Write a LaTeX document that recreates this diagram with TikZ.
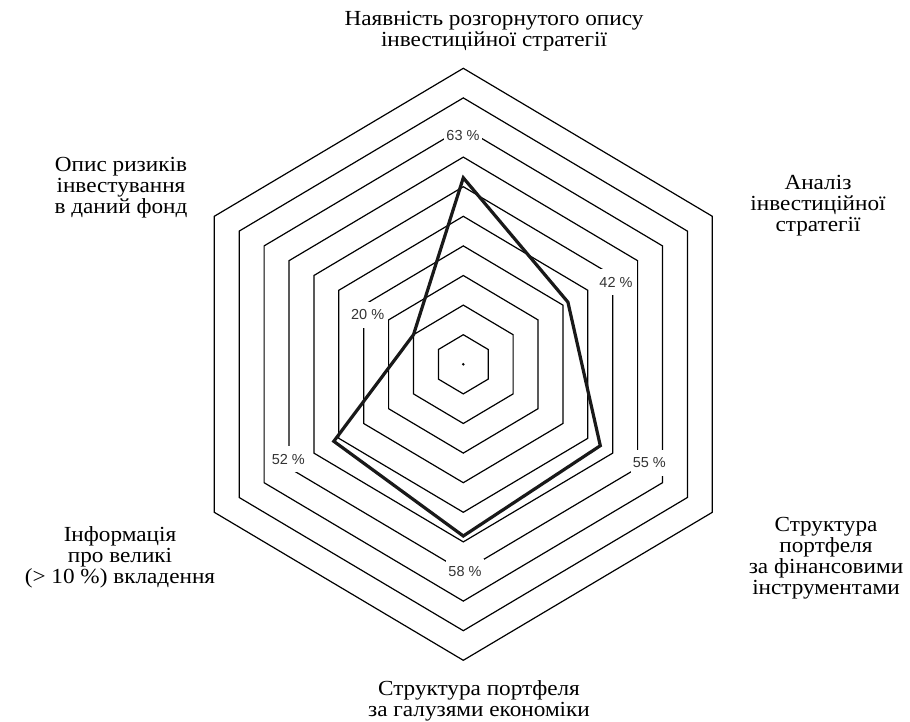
\documentclass[tikz,border=0pt]{standalone}
\usepackage{fontspec}
\setmainfont[FakeStretch=1.08]{Liberation Serif}
\newfontfamily\pctfont{Liberation Sans}
\begin{document}
\begin{tikzpicture}[x=1pt,y=-1pt,
  ring/.style={line width=1.2pt, line join=miter},
  datapoly/.style={line width=3.2pt, line join=miter, black!90},
  pct/.style={font=\pctfont\fontsize{14.5}{15}\selectfont, text=black!80, fill=white, inner xsep=2pt, inner ysep=8pt},
  cat/.style={font=\fontsize{21.5}{21}\selectfont, align=center, inner sep=0pt, anchor=north},
]
\useasboundingbox (0,0) rectangle (910,722);
\begin{scope}[shift={(463.3,364.3)}]
  \foreach \k in {1,...,10} {
    \draw[ring] (0,-29.6*\k) -- (24.9*\k,-14.8*\k) -- (24.9*\k,14.8*\k) -- (0,29.6*\k)
      -- (-24.9*\k,14.8*\k) -- (-24.9*\k,-14.8*\k) -- cycle;
  }
  \fill (0,0) circle (1.4);
  \coordinate (dT) at (0,-186.5);
  \coordinate (dUR) at (104.6,-62.2);
  \coordinate (dLR) at (137,81.4);
  \coordinate (dB) at (0,171.7);
  \coordinate (dLL) at (-129.5,77);
  \coordinate (dUL) at (-49.8,-29.6);
  \draw[datapoly] (dT) -- (dUR) -- (dLR) -- (dB) -- (dLL) -- (dUL) -- cycle;
\end{scope}

\node[pct] (p63) at (463,135.5) {63 \%};
\node[pct] (p42) at (616,282) {42 \%};
\node[pct] (p55) at (649.3,462.7) {55 \%};
\node[pct] (p20) at (367.7,315) {20 \%};
\node[pct] (p52) at (288.3,459.3) {52 \%};
\node[pct] (p58) at (465,572) {58 \%};

\node[cat] (ctop) at (494,11.5) {Наявність розгорнутого опису\\інвестиційної стратегії};
\node[cat] (cur) at (818,175) {Аналіз\\інвестиційної\\стратегії};
\node[cat] (clr) at (826,517) {Структура\\портфеля\\за фінансовими\\інструментами};
\node[cat] (cbot) at (479,680.5) {Структура портфеля\\за галузями економіки};
\node[cat] (cll) at (120,526) {Інформація\\про великі\\(> 10 \%) вкладення};
\node[cat] (cul) at (121,157) {Опис ризиків\\інвестування\\в даний фонд};
\end{tikzpicture}
\end{document}
